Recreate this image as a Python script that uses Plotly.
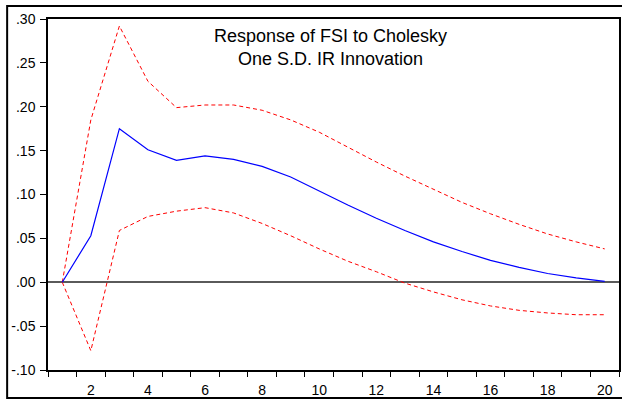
import plotly.graph_objects as go

periods = list(range(1, 21))
response = [0.000, 0.053, 0.175, 0.151, 0.139, 0.144, 0.140, 0.132, 0.120, 0.104,
            0.088, 0.073, 0.059, 0.046, 0.035, 0.025, 0.017, 0.010, 0.005, 0.001]
upper = [0.000, 0.185, 0.292, 0.229, 0.199, 0.202, 0.202, 0.196, 0.185, 0.171,
         0.154, 0.137, 0.121, 0.106, 0.091, 0.078, 0.066, 0.055, 0.046, 0.038]
lower = [0.000, -0.078, 0.059, 0.075, 0.081, 0.085, 0.079, 0.067, 0.053, 0.038,
         0.024, 0.012, -0.001, -0.011, -0.020, -0.027, -0.032, -0.035, -0.037, -0.037]

x_tick_vals = [2, 4, 6, 8, 10, 12, 14, 16, 18, 20]
y_tick_vals = [-0.10, -0.05, 0.00, 0.05, 0.10, 0.15, 0.20, 0.25, 0.30]
y_tick_text = ["-.10", "-.05", ".00", ".05", ".10", ".15", ".20", ".25", ".30"]
title_text = "Response of FSI to Cholesky<br>One S.D. IR Innovation"

FONT = "Liberation Sans, Arial, sans-serif"

fig = go.Figure()
fig.add_trace(go.Scatter(x=periods, y=upper, mode="lines",
                         line=dict(color="#FF0000", width=1, dash="4px,3px"),
                         showlegend=False, hoverinfo="skip"))
fig.add_trace(go.Scatter(x=periods, y=lower, mode="lines",
                         line=dict(color="#FF0000", width=1, dash="4px,3px"),
                         showlegend=False, hoverinfo="skip"))
fig.add_trace(go.Scatter(x=periods, y=response, mode="lines",
                         line=dict(color="#0000FF", width=1.2),
                         showlegend=False))

fig.update_layout(
    width=622, height=401,
    margin=dict(l=48, r=1, t=19, b=31),
    paper_bgcolor="white", plot_bgcolor="white",
    font=dict(family=FONT, color="black", size=14),
    xaxis=dict(range=[0.5, 20.5], tickmode="array", tickvals=x_tick_vals,
               ticks="", showgrid=False, zeroline=False,
               showline=True, linecolor="black", linewidth=1.5, mirror=True,
               ticklabelstandoff=6,
               minor=dict(tickmode="linear", tick0=0.5, dtick=1, ticks="outside",
                          ticklen=5, tickcolor="black", tickwidth=1, showgrid=False),
               tickfont=dict(size=14)),
    yaxis=dict(range=[-0.10, 0.30], tickmode="array", tickvals=y_tick_vals,
               ticktext=y_tick_text, ticks="outside", ticklen=6, tickcolor="black",
               tickwidth=1, showgrid=False,
               zeroline=True, zerolinecolor="#5a5a5a", zerolinewidth=1.7,
               showline=True, linecolor="black", linewidth=1.5, mirror=True,
               ticklabelstandoff=2, tickfont=dict(size=14)),
)

# title inside the plot area
fig.add_annotation(text=title_text, xref="paper", yref="paper",
                   x=0.4956, y=0.9188, xanchor="center", yanchor="middle",
                   showarrow=False, align="center",
                   font=dict(family=FONT, size=18, color="black"))

# outer frame around the whole chart
fig.add_shape(type="rect", xref="paper", yref="paper",
              x0=(7 - 48) / 573, x1=(626 - 48) / 573,
              y0=(370 - 398) / 351, y1=(370 - 6) / 351,
              line=dict(color="black", width=2), fillcolor="rgba(0,0,0,0)",
              layer="below")

fig.write_html("out.html", config={"displayModeBar": False},
               post_script="document.body.style.margin='0';document.body.style.padding='0';")
